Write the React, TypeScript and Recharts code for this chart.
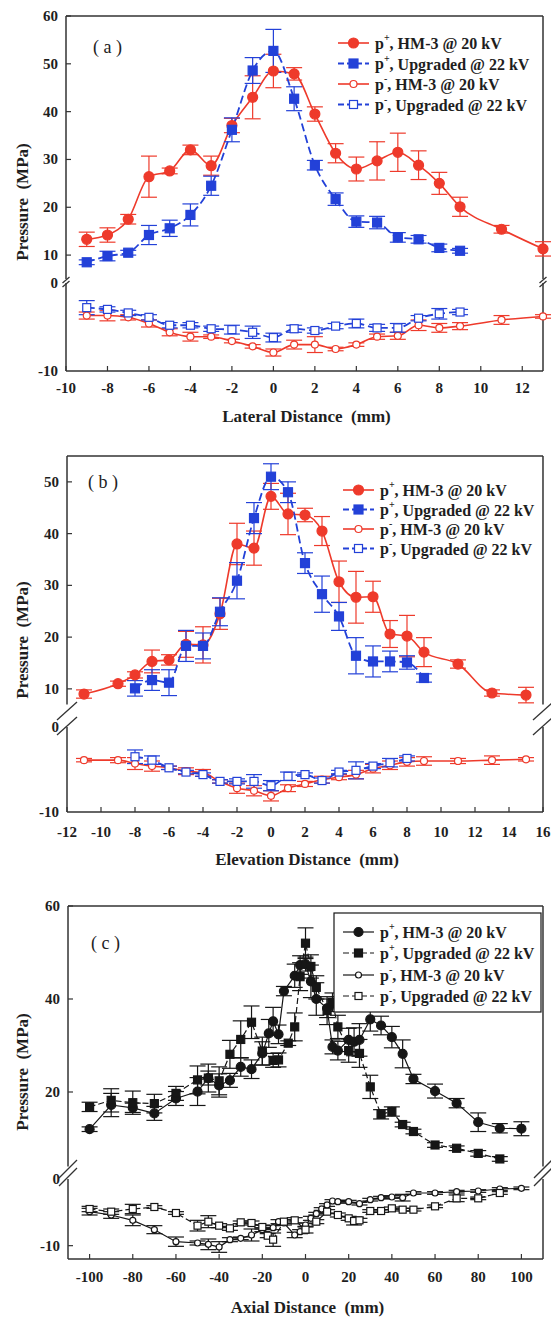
import React from 'react';
import { LineChart, Line, XAxis, YAxis, ErrorBar, ReferenceLine } from 'recharts';

const W = 551;
const H = 1317;
const SERIF = '"Liberation Serif", "Times New Roman", "DejaVu Serif", serif';
const AXIS = '#333333';
const RED = '#ee3a2b';
const BLUE = '#2341d8';
const INK = '#161616';

// ---------- (a) lateral ----------
const latX = [-9, -8, -7, -6, -5, -4, -3, -2, -1, 0, 1, 2, 3, 4, 5, 6, 7, 8, 9, 11, 13];
const latHm3Pos = [13.3, 14.2, 17.5, 26.4, 27.6, 32.0, 28.7, 37.1, 43.0, 48.5, 47.9, 39.5, 31.3, 28.0, 29.7, 31.5, 28.8, 25.0, 20.1, 15.4, 11.3];
const latHm3PosErr = [1.5, 1.5, 1.0, 4.3, 0.6, 1.0, 2.0, 1.5, 4.5, 3.5, 1.3, 1.5, 2.0, 2.5, 4.0, 4.0, 3.0, 2.3, 2.0, 0.8, 1.5];
const latHm3Neg = [-3.7, -3.7, -3.9, -4.6, -5.6, -6.1, -6.1, -6.6, -7.2, -7.9, -7.0, -7.0, -7.5, -7.0, -6.1, -6.0, -4.8, -5.1, -4.9, -4.2, -3.8];
const latHm3NegErr = [0.4, 0.6, 0.3, 0.4, 0.4, 0.5, 0.2, 0.2, 0.2, 0.4, 0.5, 0.9, 0.2, 0.2, 0.3, 0.4, 0.6, 0.5, 0.4, 0.5, 0.2];
const latUpgX = [-9, -8, -7, -6, -5, -4, -3, -2, -1, 0, 1, 2, 3, 4, 5, 6, 7, 8, 9];
const latUpgPos = [8.5, 9.8, 10.5, 14.2, 15.6, 18.4, 24.5, 36.2, 48.6, 52.7, 42.7, 28.8, 21.7, 17.0, 16.8, 13.7, 13.3, 11.5, 10.9];
const latUpgPosErr = [0.5, 1.0, 0.5, 2.0, 1.7, 2.3, 2.0, 2.5, 2.7, 4.5, 2.5, 1.0, 1.3, 1.2, 1.3, 1.0, 0.8, 0.8, 0.5];
const latUpgNeg = [-2.8, -3.0, -3.4, -3.9, -4.8, -4.8, -5.2, -5.3, -5.6, -6.2, -5.2, -5.4, -4.9, -4.6, -5.1, -5.1, -4.0, -3.5, -3.3];
const latUpgNegErr = [0.8, 0.3, 0.3, 0.3, 0.3, 0.3, 0.3, 0.5, 0.7, 0.5, 0.4, 0.3, 0.3, 0.5, 0.4, 0.5, 0.3, 0.6, 0.3];
const latTicks = [-10, -8, -6, -4, -2, 0, 2, 4, 6, 8, 10, 12];

// ---------- (b) elevation ----------
const eleX = [-11, -9, -8, -7, -6, -5, -4, -3, -2, -1, 0, 1, 2, 3, 4, 5, 6, 7, 8, 9, 11, 13, 15];
const eleHm3Pos = [9.0, 11.0, 12.7, 15.3, 15.6, 18.6, 18.5, 24.5, 38.0, 37.2, 47.2, 43.8, 43.6, 40.5, 30.7, 27.7, 27.8, 20.6, 20.2, 17.1, 14.8, 9.2, 8.8];
const eleHm3PosErr = [0.8, 0.5, 0.6, 2.2, 1.0, 2.5, 3.5, 3.0, 4.0, 3.3, 2.5, 4.0, 1.3, 2.8, 4.0, 5.0, 3.0, 2.6, 4.0, 2.8, 0.8, 0.6, 1.5];
const eleHm3Neg = [-3.9, -3.9, -4.3, -4.6, -4.8, -5.2, -5.4, -6.4, -7.2, -7.5, -8.1, -7.2, -6.7, -6.2, -5.9, -5.6, -4.9, -4.5, -4.1, -4.0, -4.0, -3.9, -3.8];
const eleHm3NegErr = [0.2, 0.3, 0.7, 0.6, 0.2, 0.4, 0.4, 0.2, 0.6, 0.6, 0.6, 0.4, 0.3, 0.4, 0.3, 0.5, 0.5, 0.5, 0.5, 0.5, 0.3, 0.5, 0.2];
const eleUpgPosX = [-8, -7, -6, -5, -4, -3, -2, -1, 0, 1, 2, 3, 4, 5, 6, 7, 8, 9];
const eleUpgPos = [10.1, 11.7, 11.2, 18.3, 18.3, 24.9, 30.9, 43.0, 51.0, 48.0, 34.3, 28.3, 24.0, 16.4, 15.3, 15.3, 15.1, 12.1];
const eleUpgPosErr = [1.5, 2.0, 2.5, 3.0, 2.5, 2.7, 3.5, 3.0, 2.5, 2.0, 2.0, 3.5, 2.7, 3.5, 3.0, 2.0, 1.3, 0.8];
const eleUpgNegX = [-8, -7, -6, -5, -4, -3, -2, -1, 0, 1, 2, 3, 4, 5, 6, 7, 8];
const eleUpgNeg = [-3.5, -3.9, -4.8, -5.3, -5.6, -6.4, -6.4, -6.4, -6.9, -5.8, -5.6, -6.3, -5.3, -5.1, -4.6, -4.2, -3.7];
const eleUpgNegErr = [0.8, 0.5, 0.2, 0.2, 0.2, 0.2, 0.3, 0.8, 0.6, 0.5, 0.2, 0.3, 0.2, 1.0, 0.3, 0.5, 0.3];
const eleTicks = [-12, -10, -8, -6, -4, -2, 0, 2, 4, 6, 8, 10, 12, 14, 16];

// ---------- (c) axial ----------
const axHm3PosX = [-100, -90, -80, -70, -60, -50, -45, -40, -35, -30, -25, -20, -17, -15, -12.5, -10, -5, -2.5, 0, 2.5, 5, 10, 12.5, 15, 20, 22.5, 25, 30, 35, 40, 45, 50, 60, 70, 80, 90, 100];
const axHm3Pos = [12.0, 17.2, 16.6, 15.4, 18.6, 20.1, 23.0, 21.4, 22.5, 25.4, 24.9, 28.3, 32.6, 35.2, 32.4, 41.7, 45.0, 47.3, 47.5, 43.8, 40.0, 38.0, 29.7, 28.9, 31.2, 30.8, 31.2, 35.6, 34.3, 31.8, 28.2, 22.8, 20.2, 17.6, 13.5, 12.2, 12.1];
const axHm3PosErr = [0.5, 2.5, 1.0, 1.5, 1.5, 3.0, 1.5, 2.5, 1.5, 2.0, 2.0, 2.5, 3.0, 3.0, 2.0, 1.0, 2.5, 2.0, 1.5, 3.5, 3.5, 2.0, 1.5, 2.0, 2.5, 3.0, 3.5, 2.5, 2.0, 2.3, 3.0, 1.0, 1.5, 1.0, 2.0, 1.0, 1.5];
const axUpgPosX = [-100, -90, -80, -70, -60, -50, -45, -40, -35, -30, -25, -20, -15, -12.5, -8, -5, -2.5, 0, 2.5, 5, 10, 12.5, 15, 20, 25, 30, 35, 40, 45, 50, 60, 70, 80, 90];
const axUpgPos = [16.8, 18.2, 17.7, 17.5, 19.7, 22.6, 23.0, 22.4, 28.1, 31.3, 35.0, 28.8, 26.8, 26.9, 30.5, 34.0, 44.8, 52.0, 47.0, 42.5, 37.5, 39.3, 34.0, 28.9, 28.3, 21.1, 15.2, 15.8, 13.0, 11.5, 8.6, 7.9, 6.8, 5.6];
const axUpgPosErr = [1.0, 2.5, 2.5, 2.0, 1.5, 3.0, 3.0, 3.0, 3.0, 4.0, 3.5, 3.0, 1.5, 1.5, 0.5, 3.0, 3.0, 3.3, 2.5, 2.5, 3.0, 2.0, 2.5, 2.5, 3.0, 2.5, 1.0, 1.0, 0.5, 0.5, 0.5, 0.5, 0.6, 0.5];
const axHm3NegX = [-100, -90, -80, -70, -60, -50, -45, -40, -35, -30, -25, -20, -15, -12.5, -10, -5, -2.5, 0, 2.5, 5, 7.5, 10, 12.5, 15, 20, 25, 30, 35, 40, 45, 50, 60, 70, 80, 90, 100];
const axHm3Neg = [-4.9, -5.4, -6.2, -7.6, -9.4, -9.6, -9.8, -10.2, -9.1, -8.9, -8.4, -7.6, -7.3, -6.4, -6.6, -8.4, -7.9, -6.9, -5.9, -5.2, -4.5, -3.9, -3.3, -3.4, -3.4, -3.7, -3.1, -2.8, -2.7, -2.8, -2.1, -2.1, -1.9, -1.8, -1.5, -1.4];
const axHm3NegErr = [0.5, 0.5, 0.8, 0.6, 0.7, 0.3, 0.8, 0.8, 0.3, 0.2, 0.9, 0.3, 0.3, 0.3, 0.3, 0.4, 0.3, 0.3, 0.3, 0.2, 0.2, 0.2, 0.2, 0.2, 0.2, 0.2, 0.2, 0.2, 0.2, 0.5, 0.2, 0.2, 0.2, 0.2, 0.2, 0.2];
const axUpgNegX = [-100, -90, -80, -70, -60, -50, -45, -40, -35, -30, -25, -20, -17.5, -15, -10, -5, 0, 5, 10, 15, 20, 22.5, 25, 30, 35, 40, 45, 50, 60, 70, 80, 90];
const axUpgNeg = [-4.5, -4.9, -4.5, -4.2, -5.1, -7.0, -6.4, -7.0, -7.4, -6.5, -6.6, -7.2, -8.5, -9.1, -6.4, -6.2, -7.6, -6.4, -4.9, -5.4, -5.9, -6.3, -6.2, -4.8, -4.8, -4.4, -4.6, -4.6, -4.1, -2.9, -2.9, -2.1];
const axUpgNegErr = [0.4, 0.4, 0.7, 0.2, 0.2, 0.8, 0.9, 0.3, 0.3, 0.2, 0.3, 0.3, 0.3, 1.0, 0.3, 0.4, 0.5, 0.3, 0.3, 0.3, 0.3, 0.6, 0.3, 0.2, 0.2, 0.2, 0.2, 0.2, 0.2, 0.5, 0.2, 0.2];
const axTicks = [-100, -80, -60, -40, -20, 0, 20, 40, 60, 80, 100];

type Pt = { x: number; y: number; e: number };
type Shape = 'circle' | 'square';
type Series = { key: string; data: Pt[]; color: string; dash?: string; shape: Shape; filled: boolean; size: number; width: number };

const rows = (xs: number[], ys: number[], es: number[]): Pt[] => xs.map((x, i) => ({ x, y: ys[i], e: es[i] }));

const markerEl = (shape: Shape, filled: boolean, color: string, size: number, cx: number, cy: number, key: string) => {
  const fill = filled ? color : '#fff';
  if (shape === 'circle') return <circle key={key} cx={cx} cy={cy} r={size} fill={fill} stroke={color} strokeWidth={1.2} />;
  return <rect key={key} x={cx - size} y={cy - size} width={size * 2} height={size * 2} fill={fill} stroke={color} strokeWidth={1.2} />;
};

const dotFn = (s: Series) => (p: any) => {
  if (p.cx == null || p.cy == null) return <g key={`n-${s.key}-${p.index}`} />;
  return markerEl(s.shape, s.filled, s.color, s.size, p.cx, p.cy, `d-${s.key}-${p.index}`);
};

type Panel = {
  left: number; right: number;
  upperTop: number; upperBottom: number; upperDomain: [number, number]; upperTicks: number[];
  lowerTop: number; lowerBottom: number; lowerDomain: [number, number]; lowerTicks: number[]; lowerNoLine: number[];
  xDomain: [number, number]; xTicks: number[]; labelGap: number;
  curve: 'monotone' | 'linear';
  pos: Series[]; neg: Series[];
  breaks: { y1: number; y2: number; dx: number; dy: number };
  tag: string; tagX: number; tagY: number;
  title: string; titleY: number; yTitleY: number;
  legendX: number; legendRows: number[]; legendBox?: { x: number; y: number; w: number; h: number };
};

const mk = (key: string, data: Pt[], color: string, shape: Shape, filled: boolean, size: number, dash?: string, width = 1.5): Series =>
  ({ key, data, color, shape, filled, size, dash, width });

const panels: Panel[] = [
  {
    left: 66, right: 543,
    upperTop: 16, upperBottom: 279, upperDomain: [5, 60], upperTicks: [10, 20, 30, 40, 50, 60],
    lowerTop: 283, lowerBottom: 371, lowerDomain: [-10, 0], lowerTicks: [-10, 0], lowerNoLine: [0, -10],
    xDomain: [-10, 13], xTicks: latTicks, labelGap: 17, curve: 'monotone',
    pos: [
      mk('a1', rows(latX, latHm3Pos, latHm3PosErr), RED, 'circle', true, 5, undefined, 1.6),
      mk('a2', rows(latUpgX, latUpgPos, latUpgPosErr), BLUE, 'square', true, 4.5, '8 4', 1.8),
    ],
    neg: [
      mk('a3', rows(latX, latHm3Neg, latHm3NegErr), RED, 'circle', false, 3.5, undefined, 1.6),
      mk('a4', rows(latUpgX, latUpgNeg, latUpgNegErr), BLUE, 'square', false, 4, '8 4', 1.8),
    ],
    breaks: { y1: 280, y2: 284, dx: 3.5, dy: 3 },
    tag: '( a )', tagX: 93, tagY: 47, title: 'Lateral Distance\u00a0 (mm)', titleY: 416, yTitleY: 202,
    legendX: 338, legendRows: [43, 63.5, 84, 104.5],
  },
  {
    left: 67, right: 543,
    upperTop: 456, upperBottom: 704.4, upperDomain: [7, 55], upperTicks: [10, 20, 30, 40, 50],
    lowerTop: 727, lowerBottom: 812, lowerDomain: [-10, 0], lowerTicks: [-10, 0], lowerNoLine: [0, -10],
    xDomain: [-12, 16], xTicks: eleTicks, labelGap: 20, curve: 'monotone',
    pos: [
      mk('b1', rows(eleX, eleHm3Pos, eleHm3PosErr), RED, 'circle', true, 5, undefined, 1.6),
      mk('b2', rows(eleUpgPosX, eleUpgPos, eleUpgPosErr), BLUE, 'square', true, 4.5, '8 4', 1.8),
    ],
    neg: [
      mk('b3', rows(eleX, eleHm3Neg, eleHm3NegErr), RED, 'circle', false, 3.5, undefined, 1.6),
      mk('b4', rows(eleUpgNegX, eleUpgNeg, eleUpgNegErr), BLUE, 'square', false, 4, '8 4', 1.8),
    ],
    breaks: { y1: 711, y2: 726, dx: 10, dy: 9 },
    tag: '( b )', tagX: 88, tagY: 482, title: 'Elevation Distance\u00a0 (mm)', titleY: 859, yTitleY: 640,
    legendX: 343, legendRows: [490, 509.5, 529, 548.5],
  },
  {
    left: 68, right: 543,
    upperTop: 906, upperBottom: 1166.4, upperDomain: [4, 60], upperTicks: [20, 40, 60],
    lowerTop: 1179, lowerBottom: 1259, lowerDomain: [-12, 0], lowerTicks: [-10, 0], lowerNoLine: [0],
    xDomain: [-110, 110], xTicks: axTicks, labelGap: 18, curve: 'linear',
    pos: [
      mk('c1', rows(axHm3PosX, axHm3Pos, axHm3PosErr), INK, 'circle', true, 4.5, undefined, 1.2),
      mk('c2', rows(axUpgPosX, axUpgPos, axUpgPosErr), INK, 'square', true, 4, '6 3', 1.2),
    ],
    neg: [
      mk('c3', rows(axHm3NegX, axHm3Neg, axHm3NegErr), INK, 'circle', false, 3, undefined, 1.2),
      mk('c4', rows(axUpgNegX, axUpgNeg, axUpgNegErr), INK, 'square', false, 3.5, '6 3', 1.2),
    ],
    breaks: { y1: 1169, y2: 1177, dx: 9, dy: 9 },
    tag: '( c )', tagX: 91, tagY: 943, title: 'Axial Distance\u00a0 (mm)', titleY: 1307, yTitleY: 1072,
    legendX: 343, legendRows: [932, 953, 975, 996], legendBox: { x: 334, y: 913, w: 207, h: 99 },
  },
];

const PAD = 10;

function Segment(props: {
  top: number; bottom: number; domain: [number, number]; ticks: number[]; noLine: number[];
  showX: boolean; panel: Panel; series: Series[];
}) {
  const { top, bottom, domain, ticks, noLine, showX, panel, series } = props;
  const plotH = bottom - top;
  const xh = showX ? 40 : 0;
  const height = PAD + plotH + (showX ? xh : PAD);
  const axisY = PAD + plotH;
  const xTick = (p: any) => (
    <g key={`xt-${p.index}`}>
      <line x1={p.x} x2={p.x} y1={axisY} y2={axisY - 5} stroke={AXIS} strokeWidth={1.2} />
      <text x={p.x} y={axisY + panel.labelGap} textAnchor="middle" dominantBaseline="central"
        fontFamily={SERIF} fontWeight="bold" fontSize={15} fill="#1e1e1e">{p.payload.value}</text>
    </g>
  );
  const yTick = (p: any) => (
    <g key={`yt-${p.index}`}>
      {!noLine.includes(p.payload.value) && (
        <line x1={panel.left} x2={panel.left + 5} y1={p.y} y2={p.y} stroke={AXIS} strokeWidth={1.2} />
      )}
      <text x={panel.left - 8} y={p.y} textAnchor="end" dominantBaseline="central"
        fontFamily={SERIF} fontWeight="bold" fontSize={15} fill="#1e1e1e">{p.payload.value}</text>
    </g>
  );
  return (
    <div style={{ position: 'absolute', left: 0, top: top - PAD }}>
      <LineChart width={W} height={height} margin={{ top: PAD, right: W - panel.right, bottom: showX ? 0 : PAD, left: 0 }}>
        <XAxis type="number" dataKey="x" domain={panel.xDomain} ticks={panel.xTicks} interval={0}
          hide={!showX} height={xh} tickLine={false} tickSize={0} tick={xTick}
          axisLine={{ stroke: AXIS, strokeWidth: 1.5 }} />
        <YAxis type="number" domain={domain} ticks={ticks} interval={0} width={panel.left}
          tickLine={false} tickSize={0} tick={yTick} axisLine={{ stroke: AXIS, strokeWidth: 1.5 }} />
        {!showX && <ReferenceLine y={domain[1]} stroke={AXIS} strokeWidth={1.5} />}
        <ReferenceLine x={panel.xDomain[1]} stroke={AXIS} strokeWidth={1.5} />
        {series.map((s) => (
          <Line key={s.key} data={s.data} dataKey="y" type={panel.curve} stroke={s.color}
            strokeWidth={s.width} strokeDasharray={s.dash} dot={dotFn(s)} activeDot={false}
            isAnimationActive={false}>
            <ErrorBar dataKey="e" direction="y" width={8} stroke={s.color} strokeWidth={1.2} />
          </Line>
        ))}
      </LineChart>
    </div>
  );
}

const legendLabels = [
  { sign: '+', text: ', HM-3 @ 20 kV' },
  { sign: '+', text: ', Upgraded @ 22 kV' },
  { sign: '-', text: ', HM-3 @ 20 kV' },
  { sign: '-', text: ', Upgraded @ 22 kV' },
];

function Overlay() {
  return (
    <svg width={W} height={H} style={{ position: 'absolute', left: 0, top: 0, pointerEvents: 'none' }}>
      {panels.map((p, pi) => {
        const all = [p.pos[0], p.pos[1], p.neg[0], p.neg[1]];
        const b = p.breaks;
        return (
          <g key={`ov-${pi}`}>
            {[p.left, p.right].map((bx) => [b.y1, b.y2].map((by) => (
              <line key={`br-${bx}-${by}`} x1={bx - b.dx} y1={by + b.dy} x2={bx + b.dx} y2={by - b.dy}
                stroke={AXIS} strokeWidth={1.3} />
            )))}
            <text x={p.tagX} y={p.tagY} dominantBaseline="central" fontFamily={SERIF} fontSize={18} fill="#222">{p.tag}</text>
            <text x={(p.left + p.right) / 2 + 2} y={p.titleY} textAnchor="middle" dominantBaseline="central"
              fontFamily={SERIF} fontWeight="bold" fontSize={17} fill="#1e1e1e">{p.title}</text>
            <text x={22} y={p.yTitleY} transform={`rotate(-90 22 ${p.yTitleY})`} textAnchor="middle" dominantBaseline="central"
              fontFamily={SERIF} fontWeight="bold" fontSize={17} fill="#1e1e1e">{'Pressure\u00a0 (MPa)'}</text>
            {p.legendBox && (
              <rect x={p.legendBox.x} y={p.legendBox.y} width={p.legendBox.w} height={p.legendBox.h}
                fill="#fff" stroke={INK} strokeWidth={1.2} />
            )}
            {all.map((s, i) => {
              const y = p.legendRows[i];
              const x1 = p.legendX;
              const x2 = p.legendX + 31;
              return (
                <g key={`lg-${pi}-${i}`}>
                  <line x1={x1} x2={x2} y1={y} y2={y} stroke={s.color} strokeWidth={s.width} strokeDasharray={s.dash ? '6 3' : undefined} />
                  {markerEl(s.shape, s.filled, s.color, s.size, (x1 + x2) / 2, y, `lm-${pi}-${i}`)}
                  <text x={x2 + 6} y={y} dominantBaseline="central" fontFamily={SERIF} fontWeight="bold" fontSize={16} fill="#1e1e1e">
                    p<tspan dy={-6} fontSize={10}>{legendLabels[i].sign}</tspan>
                    <tspan dy={6}>{legendLabels[i].text}</tspan>
                  </text>
                </g>
              );
            })}
          </g>
        );
      })}
    </svg>
  );
}

export default function App() {
  return (
    <div style={{ position: 'absolute', left: 0, top: 0, width: W, height: H, background: '#fff' }}>
      {panels.map((p, i) => (
        <React.Fragment key={`p-${i}`}>
          <Segment top={p.upperTop} bottom={p.upperBottom} domain={p.upperDomain} ticks={p.upperTicks}
            noLine={[]} showX={false} panel={p} series={p.pos} />
          <Segment top={p.lowerTop} bottom={p.lowerBottom} domain={p.lowerDomain} ticks={p.lowerTicks}
            noLine={p.lowerNoLine} showX={true} panel={p} series={p.neg} />
        </React.Fragment>
      ))}
      <Overlay />
    </div>
  );
}
